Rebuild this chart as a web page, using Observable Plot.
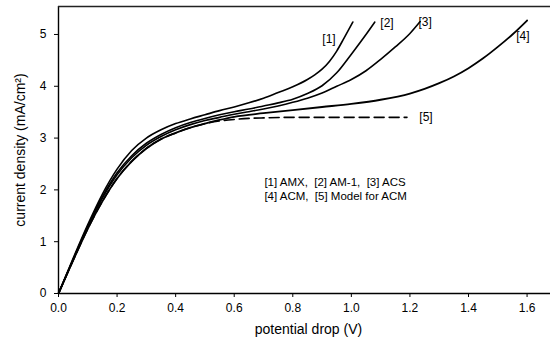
<!DOCTYPE html>
<html>
<head>
<meta charset="utf-8">
<script src="https://cdn.jsdelivr.net/npm/d3@7"></script>
<script src="https://cdn.jsdelivr.net/npm/@observablehq/plot@0.6"></script>
<style>
  html, body { margin: 0; padding: 0; background: #fff; }
  #chart { width: 550px; height: 340px; }
</style>
</head>
<body>
<div id="chart"></div>
<script>
// [1] AMX
const amxV = [0,0.05,0.1,0.15,0.2,0.25,0.3,0.35,0.4,0.45,0.5,0.55,0.6,0.65,0.7,0.75,0.8,0.85,0.875,0.9,0.925,0.95,0.975,1.005];
const amxJ = [0,0.68,1.33,1.92,2.4,2.76,3.0,3.16,3.28,3.37,3.45,3.53,3.6,3.68,3.77,3.88,3.99,4.13,4.22,4.33,4.48,4.68,4.93,5.24];
// [2] AM-1
const am1V = [0,0.05,0.1,0.15,0.2,0.25,0.3,0.35,0.4,0.45,0.5,0.55,0.6,0.65,0.7,0.75,0.8,0.85,0.9,0.95,1.0,1.05,1.08];
const am1J = [0,0.66,1.3,1.87,2.33,2.66,2.9,3.07,3.2,3.3,3.38,3.45,3.51,3.56,3.62,3.68,3.75,3.86,4.01,4.26,4.62,5.0,5.24];
// [3] ACS
const acsV = [0,0.05,0.1,0.15,0.2,0.25,0.3,0.35,0.4,0.45,0.5,0.55,0.6,0.65,0.7,0.75,0.8,0.85,0.9,0.95,1.0,1.05,1.1,1.15,1.2,1.235];
const acsJ = [0,0.65,1.28,1.84,2.29,2.62,2.86,3.03,3.16,3.26,3.34,3.4,3.46,3.51,3.56,3.62,3.69,3.77,3.87,4.0,4.13,4.3,4.52,4.76,5.02,5.25];
// [4] ACM
const acmV = [0,0.05,0.1,0.15,0.2,0.25,0.3,0.35,0.4,0.45,0.5,0.55,0.6,0.7,0.8,0.9,1.0,1.1,1.2,1.25,1.3,1.35,1.4,1.45,1.5,1.55,1.6];
const acmJ = [0,0.64,1.25,1.78,2.22,2.55,2.8,2.98,3.1,3.2,3.28,3.35,3.41,3.48,3.54,3.6,3.66,3.74,3.86,3.95,4.06,4.19,4.35,4.54,4.76,5.0,5.27];
// [5] Model for ACM
const modelV = [0,0.05,0.1,0.15,0.2,0.25,0.3,0.35,0.4,0.45,0.5,0.55,0.6,0.65,0.7,0.8,0.9,1.0,1.1,1.19];
const modelJ = [0,0.64,1.25,1.78,2.22,2.55,2.8,2.98,3.1,3.2,3.28,3.33,3.36,3.38,3.39,3.4,3.4,3.4,3.4,3.4];

const curveLabels = ["[1]","[2]","[3]","[4]","[5]"];
const labelV = [0.901,1.099,1.229,1.563,1.232];
const labelJ = [4.9,5.21,5.23,4.96,3.40];

const legendLines = ["[1] AMX,\u00a0 [2] AM-1,\u00a0 [3] ACS", "[4] ACM,\u00a0 [5] Model for ACM"];
const legendV = [0.703, 0.703];
const legendJ = [2.143, 1.882];

const xTicks = [0,0.2,0.4,0.6,0.8,1.0,1.2,1.4,1.6];
const yTicks = [0,1,2,3,4,5];
const xMax = 1.68, yMax = 5.54;

const toRows = (v, j) => v.map((d, i) => ({v: d, j: j[i]}));
const font = "'Liberation Sans', Arial, Helvetica, sans-serif";

const chart = Plot.plot({
  width: 550,
  height: 340,
  marginLeft: 58,
  marginRight: 0,
  marginTop: 6,
  marginBottom: 47,
  style: {fontFamily: font, fontSize: "12px", color: "#000", background: "#fff"},
  x: {domain: [0, xMax]},
  y: {domain: [0, yMax]},
  marks: [
    Plot.ruleX([0], {stroke: "#000", strokeWidth: 1.4}),
    Plot.ruleY([0], {stroke: "#000", strokeWidth: 1.4}),
    Plot.ruleY([yMax], {stroke: "#222", strokeWidth: 1.4}),
    Plot.axisX({ticks: xTicks, tickFormat: d3.format(".1f"), tickSize: 4, tickPadding: 6, label: null, fontSize: 12}),
    Plot.axisY({ticks: yTicks, tickFormat: d3.format("d"), tickSize: 4, tickPadding: 8, label: null, fontSize: 12}),
    Plot.text(["potential drop (V)"], {frameAnchor: "bottom", dy: 36, dx: 4, lineAnchor: "middle", textAnchor: "middle", fontSize: 14}),
    Plot.text(["current density (mA/cm\u00b2)"], {frameAnchor: "left", dx: -38, rotate: -90, textAnchor: "middle", lineAnchor: "middle", fontSize: 14}),
    Plot.line(toRows(amxV, amxJ), {x: "v", y: "j", curve: "monotone-x", stroke: "#000", strokeWidth: 1.6}),
    Plot.line(toRows(am1V, am1J), {x: "v", y: "j", curve: "monotone-x", stroke: "#000", strokeWidth: 1.6}),
    Plot.line(toRows(acsV, acsJ), {x: "v", y: "j", curve: "monotone-x", stroke: "#000", strokeWidth: 1.6}),
    Plot.line(toRows(acmV, acmJ), {x: "v", y: "j", curve: "monotone-x", stroke: "#000", strokeWidth: 1.8}),
    Plot.line(toRows(modelV, modelJ), {x: "v", y: "j", curve: "monotone-x", stroke: "#000", strokeWidth: 1.6, strokeDasharray: "10,5"}),
    Plot.text(curveLabels, {x: (d, i) => labelV[i], y: (d, i) => labelJ[i], text: d => d, textAnchor: "start", fontSize: 12}),
    Plot.text(legendLines, {x: (d, i) => legendV[i], y: (d, i) => legendJ[i], text: d => d, textAnchor: "start", fontSize: 11.5})
  ]
});
document.getElementById("chart").appendChild(chart);
</script>
</body>
</html>
